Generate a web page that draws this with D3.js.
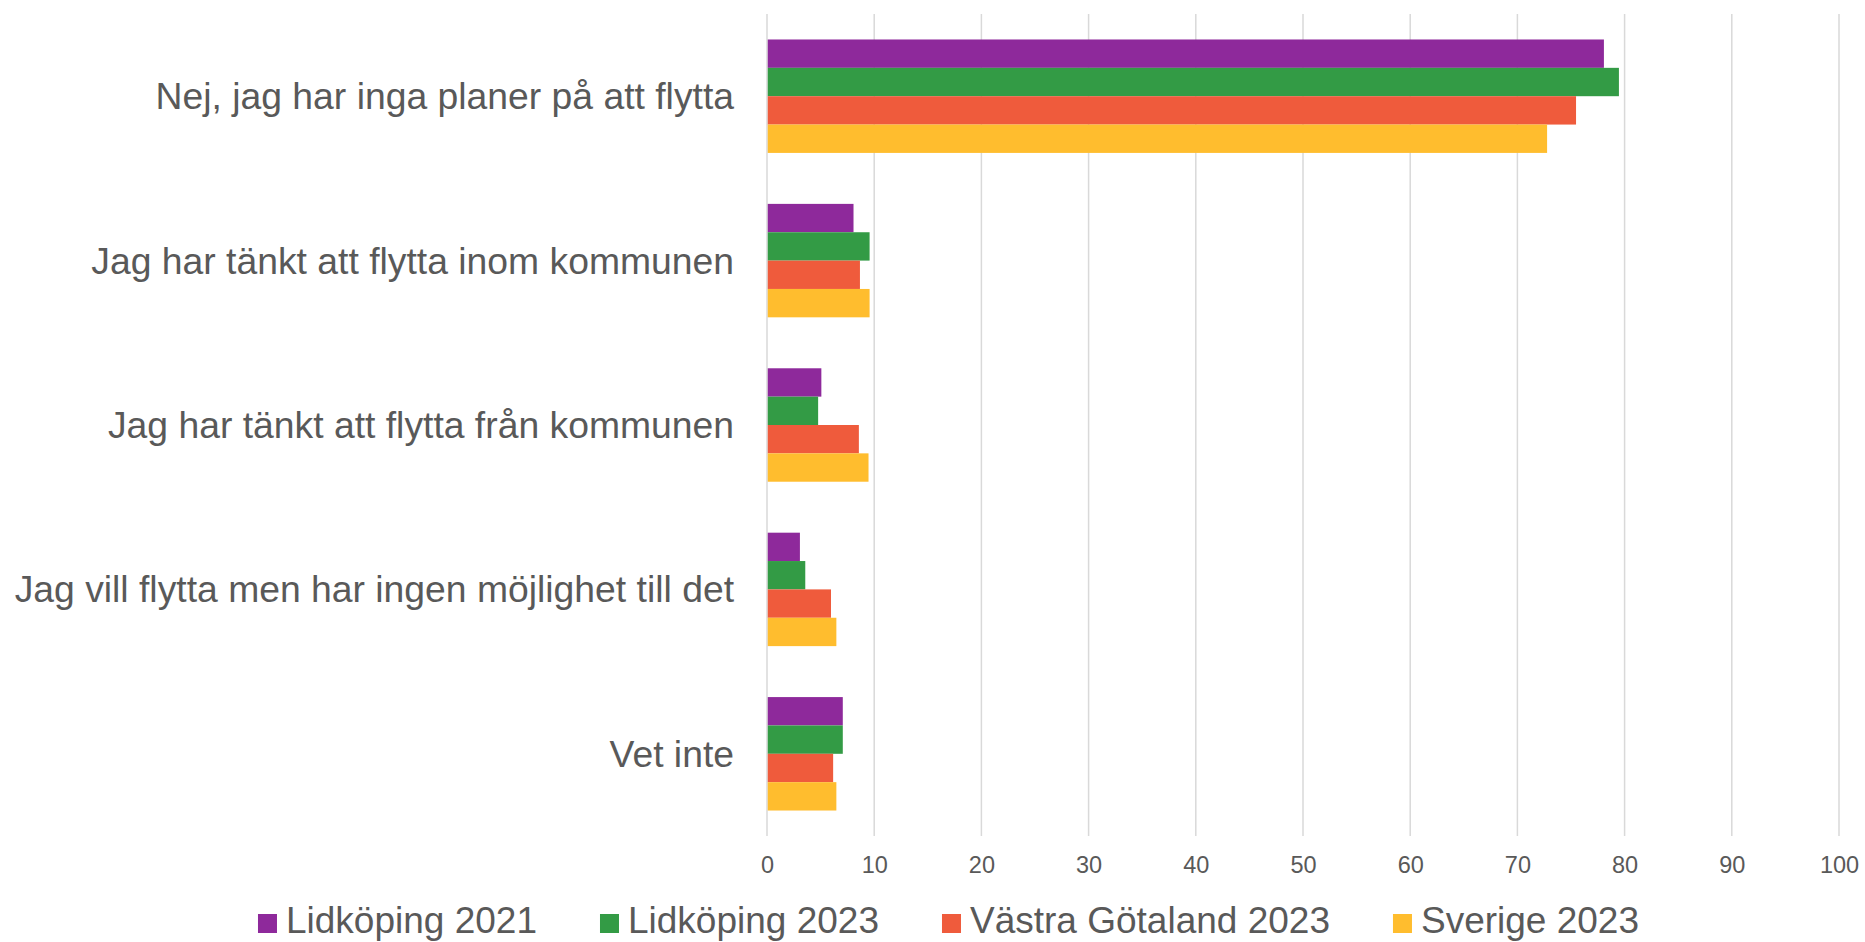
<!DOCTYPE html>
<meta charset="utf-8">
<html>
<head>
<style>
  body { margin: 0; background: #fff; }
  text { font-family: "Liberation Sans", Arial, sans-serif; fill: #595959; }
</style>
</head>
<script src="https://d3js.org/d3.v7.min.js"></script>
<body>
<div id="vis"></div>
<script>
  var categories = [
    "Nej, jag har inga planer på att flytta",
    "Jag har tänkt att flytta inom kommunen",
    "Jag har tänkt att flytta från kommunen",
    "Jag vill flytta men har ingen möjlighet till det",
    "Vet inte"
  ];
  var seriesNames = ["Lidköping 2021", "Lidköping 2023", "Västra Götaland 2023", "Sverige 2023"];
  var lidkoping2021 = [78.0, 8.0, 5.0, 3.0, 7.0];
  var lidkoping2023 = [79.4, 9.5, 4.7, 3.5, 7.0];
  var vastraGotaland2023 = [75.4, 8.6, 8.5, 5.9, 6.1];
  var sverige2023 = [72.7, 9.5, 9.4, 6.4, 6.4];
  var xTicks = [0, 10, 20, 30, 40, 50, 60, 70, 80, 90, 100];

  var seriesValues = [lidkoping2021, lidkoping2023, vastraGotaland2023, sverige2023];
  var colors = ["#8E299B", "#339B45", "#EF5B3C", "#FFBD2E"];

  var W = 1865, H = 942;
  var margin = {top: 14, right: 26, bottom: 106, left: 767};
  var width = W - margin.left - margin.right,
      height = H - margin.top - margin.bottom;

  var svg = d3.select("#vis").append("svg")
    .attr("width", W)
    .attr("height", H);

  var g = svg.append("g")
    .attr("transform", "translate(" + margin.left + "," + margin.top + ")");

  var x = d3.scaleLinear().domain([0, 100]).range([0, width]);
  var y0 = d3.scaleBand().domain(categories).range([0, height])
    .paddingInner(0.31).paddingOuter(0.155);
  var y1 = d3.scaleBand().domain(seriesNames).range([0, y0.bandwidth()]);

  // gridlines
  g.selectAll(".grid")
    .data(xTicks)
    .enter().append("line")
    .attr("x1", function(d) { return x(d); })
    .attr("x2", function(d) { return x(d); })
    .attr("y1", 0)
    .attr("y2", height)
    .style("stroke", "#D9D9D9")
    .style("stroke-width", 1.5);

  // bars
  var groups = g.selectAll(".cat")
    .data(categories)
    .enter().append("g")
    .attr("transform", function(d) { return "translate(0," + y0(d) + ")"; });

  groups.selectAll("rect")
    .data(function(d, i) {
      return seriesNames.map(function(s, j) { return {name: s, value: seriesValues[j][i], idx: j}; });
    })
    .enter().append("rect")
    .attr("x", x(0) + 0.75)
    .attr("y", function(d) { return y1(d.name); })
    .attr("height", y1.bandwidth())
    .attr("width", function(d) { return x(d.value) - x(0); })
    .style("fill", function(d) { return colors[d.idx]; });

  // category labels
  g.selectAll(".catlabel")
    .data(categories)
    .enter().append("text")
    .attr("x", -33)
    .attr("y", function(d) { return y0(d) + y0.bandwidth() / 2; })
    .attr("dy", "0.35em")
    .style("text-anchor", "end")
    .style("font-size", "37.3px")
    .text(function(d) { return d; });

  // x axis
  var xAxis = g.append("g")
    .attr("transform", "translate(0," + height + ")")
    .call(d3.axisBottom(x).tickValues(xTicks).tickSize(0).tickPadding(20));
  xAxis.select(".domain").remove();
  xAxis.selectAll("text")
    .style("font-size", "23.5px")
    .style("font-family", "'Liberation Sans', Arial, sans-serif")
    .style("fill", "#595959");

  // legend
  var legend = svg.append("g");
  var items = legend.selectAll(".item")
    .data(seriesNames)
    .enter().append("g");
  items.append("rect")
    .attr("width", 19)
    .attr("height", 19)
    .attr("y", -19)
    .style("fill", function(d, i) { return colors[i]; });
  items.append("text")
    .attr("x", 28)
    .style("font-size", "37px")
    .text(function(d) { return d; });

  var pos = 0;
  items.each(function() {
    var w = 28 + d3.select(this).select("text").node().getComputedTextLength();
    d3.select(this).attr("transform", "translate(" + pos + ",0)");
    pos += w + 63;
  });
  var total = pos - 63;
  legend.attr("transform", "translate(" + (948.5 - total / 2) + ",933)");
</script>
</body>
</html>
